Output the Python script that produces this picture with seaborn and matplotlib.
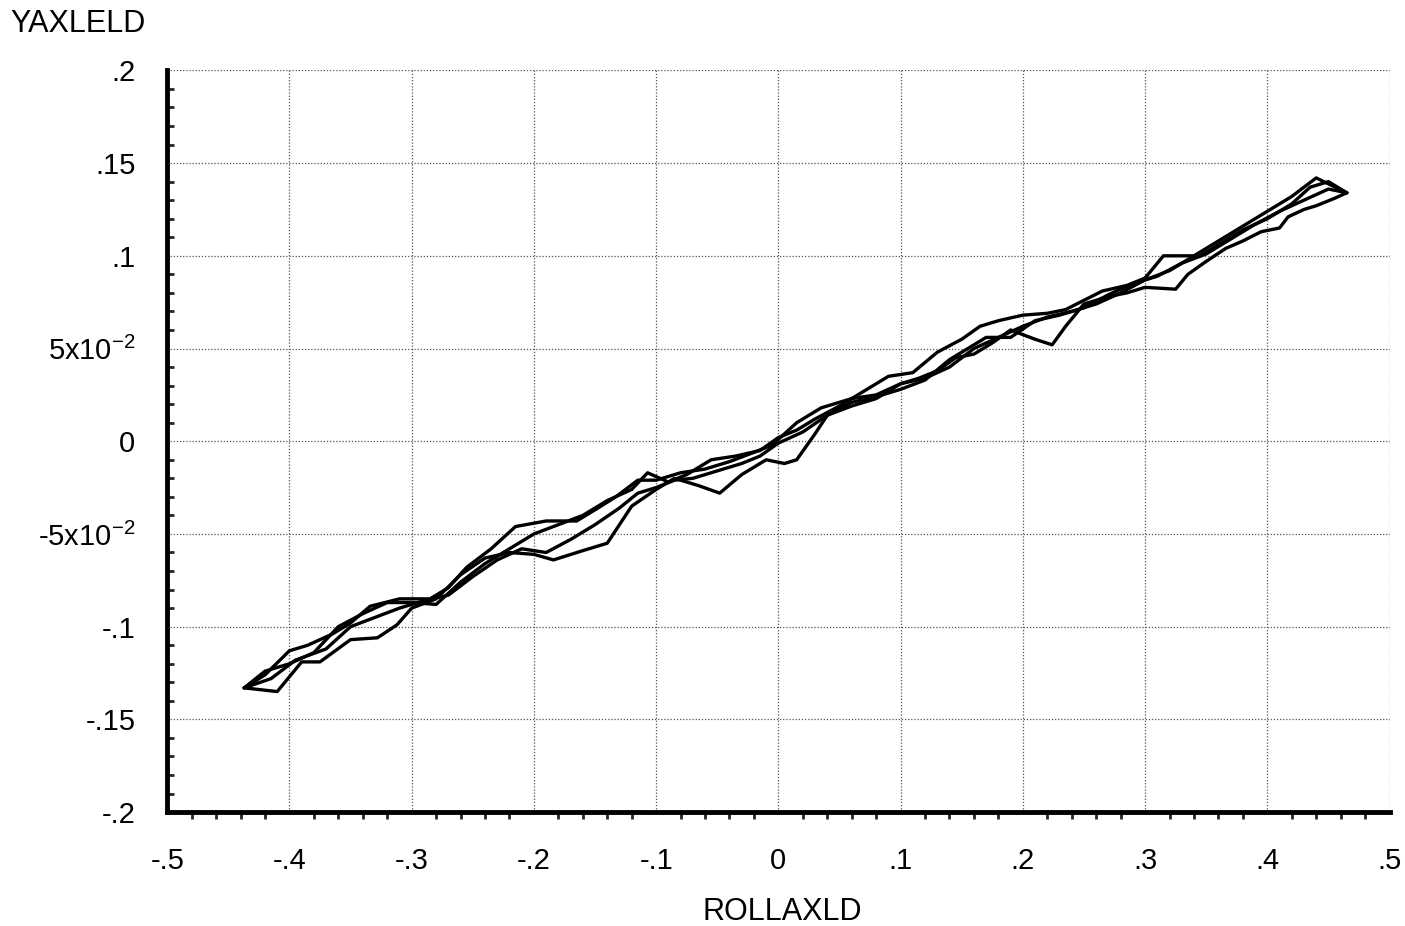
import seaborn as sns
import matplotlib.pyplot as plt
import matplotlib.ticker as mtick
import pandas as pd

# four passes of the trace (x = ROLLAXLD, y = YAXLELD)
p1_x = [-0.437, -0.42, -0.40, -0.385, -0.365, -0.35, -0.334, -0.31, -0.285, -0.27,
        -0.255, -0.235, -0.215, -0.19, -0.165, -0.15, -0.133, -0.115, -0.1, -0.08,
        -0.06, -0.04, -0.02, -0.005, 0.015, 0.035, 0.06, 0.08, 0.1, 0.12,
        0.14, 0.16, 0.18, 0.2, 0.22, 0.24, 0.26, 0.28, 0.3, 0.32,
        0.34, 0.36, 0.38, 0.4, 0.42, 0.44, 0.465]
p1_y = [-0.133, -0.126, -0.113, -0.110, -0.104, -0.098, -0.089, -0.085, -0.085, -0.079,
        -0.068, -0.058, -0.046, -0.043, -0.043, -0.037, -0.030, -0.021, -0.021, -0.017,
        -0.015, -0.011, -0.006, -0.002, 0.010, 0.018, 0.023, 0.025, 0.031, 0.034,
        0.040, 0.050, 0.056, 0.062, 0.067, 0.070, 0.074, 0.080, 0.087, 0.092,
        0.100, 0.108, 0.116, 0.124, 0.132, 0.142, 0.134]

p2_x = [0.465, 0.455, 0.44, 0.43, 0.417, 0.41, 0.395, 0.38, 0.366, 0.35,
        0.335, 0.325, 0.3, 0.285, 0.27, 0.25, 0.235, 0.224, 0.21, 0.19,
        0.175, 0.16, 0.145, 0.13, 0.115, 0.1, 0.08, 0.06, 0.04, 0.03,
        0.015, 0.005, -0.01, -0.03, -0.048, -0.065, -0.085, -0.1, -0.12, -0.14,
        -0.16, -0.184, -0.2, -0.22, -0.24, -0.26, -0.28, -0.3, -0.312, -0.328,
        -0.35, -0.375, -0.39, -0.41, -0.437]
p2_y = [0.134, 0.131, 0.127, 0.125, 0.121, 0.115, 0.113, 0.108, 0.104, 0.097,
        0.090, 0.082, 0.083, 0.080, 0.078, 0.074, 0.062, 0.052, 0.055, 0.060,
        0.053, 0.047, 0.045, 0.038, 0.034, 0.031, 0.023, 0.019, 0.014, 0.004,
        -0.010, -0.012, -0.010, -0.018, -0.028, -0.024, -0.020, -0.026, -0.035, -0.055,
        -0.059, -0.064, -0.061, -0.060, -0.063, -0.072, -0.085, -0.090, -0.099, -0.106,
        -0.107, -0.119, -0.119, -0.135, -0.133]

p3_x = [-0.437, -0.415, -0.395, -0.37, -0.35, -0.33, -0.31, -0.29, -0.27, -0.25,
        -0.23, -0.21, -0.19, -0.17, -0.15, -0.13, -0.115, -0.1, -0.085, -0.07,
        -0.05, -0.03, -0.015, 0.0, 0.02, 0.04, 0.06, 0.08, 0.1, 0.12,
        0.14, 0.155, 0.17, 0.19, 0.21, 0.23, 0.25, 0.27, 0.29, 0.31,
        0.33, 0.35, 0.37, 0.39, 0.41, 0.43, 0.45, 0.465]
p3_y = [-0.133, -0.128, -0.118, -0.112, -0.100, -0.095, -0.090, -0.086, -0.083, -0.073,
        -0.064, -0.058, -0.060, -0.053, -0.045, -0.036, -0.028, -0.025, -0.021, -0.020,
        -0.016, -0.012, -0.008, -0.001, 0.005, 0.014, 0.021, 0.024, 0.028, 0.033,
        0.044, 0.050, 0.056, 0.056, 0.065, 0.068, 0.072, 0.079, 0.085, 0.089,
        0.096, 0.101, 0.109, 0.117, 0.124, 0.130, 0.136, 0.134]

p4_x = [0.465, 0.45, 0.435, 0.42, 0.4, 0.38, 0.36, 0.345, 0.33, 0.315,
        0.3, 0.285, 0.265, 0.25, 0.235, 0.22, 0.2, 0.18, 0.165, 0.15,
        0.13, 0.11, 0.09, 0.07, 0.05, 0.03, 0.015, 0.0, -0.015, -0.035,
        -0.055, -0.075, -0.09, -0.107, -0.12, -0.14, -0.16, -0.18, -0.2, -0.22,
        -0.24, -0.26, -0.28, -0.3, -0.32, -0.34, -0.36, -0.38, -0.4, -0.42,
        -0.437]
p4_y = [0.134, 0.140, 0.137, 0.128, 0.120, 0.114, 0.106, 0.100, 0.100, 0.100,
        0.088, 0.084, 0.081, 0.076, 0.071, 0.069, 0.068, 0.065, 0.062, 0.055,
        0.048, 0.037, 0.035, 0.027, 0.019, 0.012, 0.006, 0.002, -0.005, -0.008,
        -0.010, -0.018, -0.022, -0.017, -0.026, -0.032, -0.040, -0.045, -0.050, -0.058,
        -0.066, -0.076, -0.088, -0.087, -0.087, -0.093, -0.100, -0.114, -0.120, -0.124,
        -0.133]

x_ticks = [-0.5, -0.4, -0.3, -0.2, -0.1, 0, 0.1, 0.2, 0.3, 0.4, 0.5]
x_labels = ['-.5', '-.4', '-.3', '-.2', '-.1', '0', '.1', '.2', '.3', '.4', '.5']
y_ticks = [-0.2, -0.15, -0.1, -0.05, 0, 0.05, 0.1, 0.15, 0.2]
y_labels = ['-.2', '-.15', '-.1', '-5x10$^{-2}$', '0', '5x10$^{-2}$', '.1', '.15', '.2']

frames = []
for i, (xs, ys) in enumerate([(p1_x, p1_y), (p2_x, p2_y), (p3_x, p3_y), (p4_x, p4_y)]):
    frames.append(pd.DataFrame({'x': xs, 'y': ys, 'pass': i}))
df = pd.concat(frames).reset_index(drop=True)

sns.set_style('white')
plt.rcParams['font.family'] = ['Liberation Sans', 'DejaVu Sans']
plt.rcParams['mathtext.fontset'] = 'custom'
plt.rcParams['mathtext.rm'] = 'Liberation Sans'
plt.rcParams['mathtext.it'] = 'Liberation Sans'
plt.rcParams['axes.unicode_minus'] = False

fig = plt.figure(figsize=(14.05, 9.26), dpi=100)
ax = fig.add_axes([0.119, 0.123, 0.870, 0.801])

sns.lineplot(data=df, x='x', y='y', units='pass', estimator=None, sort=False,
             color='black', lw=2.4, ax=ax, legend=False)

ax.set_xlim(-0.5, 0.5)
ax.set_ylim(-0.2, 0.2)
ax.set_xticks(x_ticks)
ax.set_xticklabels(x_labels)
ax.set_yticks(y_ticks)
ax.set_yticklabels(y_labels)
ax.xaxis.set_minor_locator(mtick.MultipleLocator(0.02))
ax.yaxis.set_minor_locator(mtick.MultipleLocator(0.01))

ax.grid(True, which='major', color='#555555', linestyle=(0, (1, 1.5)), lw=0.9)
for side in ['top', 'right']:
    ax.spines[side].set_visible(False)
for side in ['left', 'bottom']:
    ax.spines[side].set_linewidth(3.5)
    ax.spines[side].set_color('black')

ax.tick_params(axis='both', which='major', direction='inout', length=10, width=2.5,
               labelsize=21, colors='black', labelcolor='black')
ax.tick_params(axis='x', which='major', pad=20)
ax.tick_params(axis='y', which='major', pad=18)
ax.tick_params(axis='y', which='minor', direction='in', length=5, width=2, left=True)
ax.tick_params(axis='x', which='minor', direction='out', length=5, width=2, bottom=True)

ax.set_xlabel('')
ax.set_ylabel('')
fig.text(0.557, 0.015, 'ROLLAXLD', fontsize=22, ha='center', va='center', color='black')
fig.text(0.007, 0.974, 'YAXLELD', fontsize=22, ha='left', va='center', color='black')

plt.savefig('out.png', dpi=100, facecolor='white')
plt.close()
